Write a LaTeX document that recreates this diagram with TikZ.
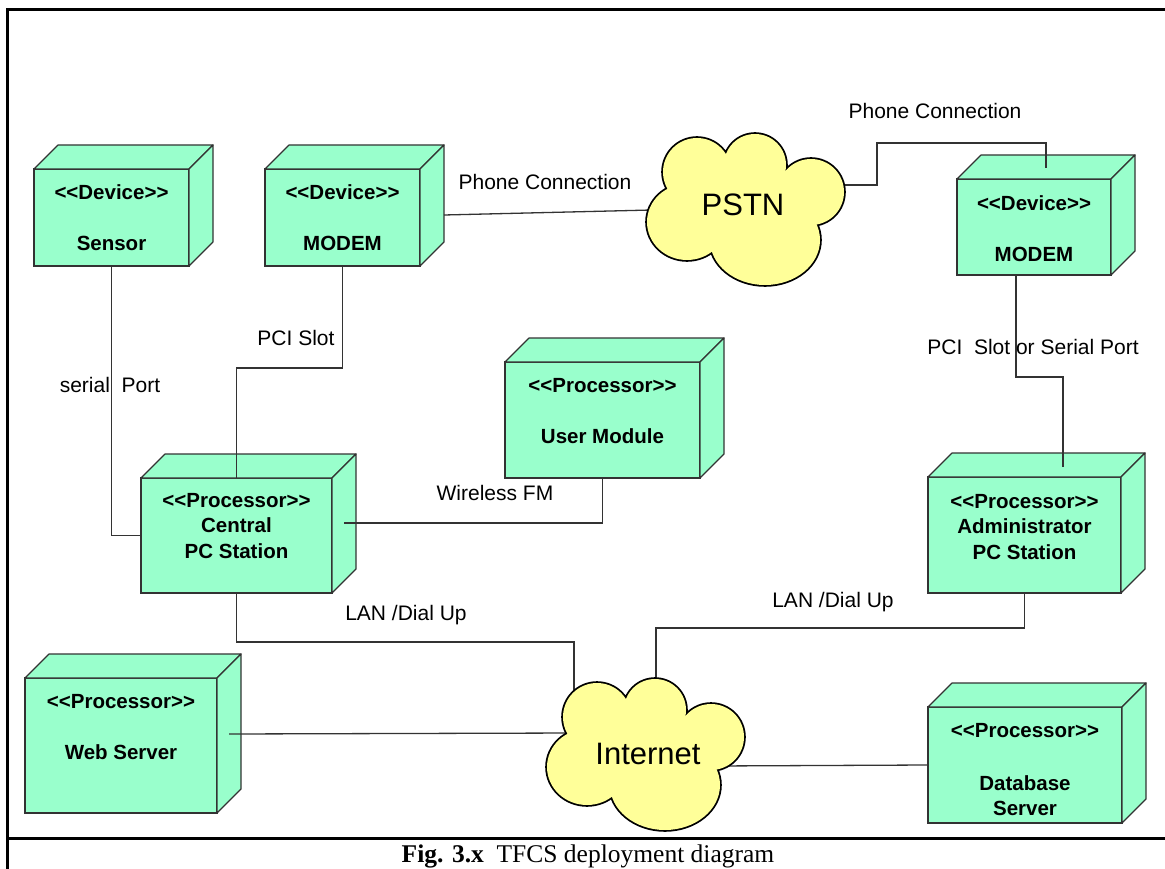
\documentclass[tikz,border=0pt]{standalone}
\usepackage{fontspec}
\setmainfont{Liberation Sans}
\newfontfamily\capfont{Liberation Serif}
\usetikzlibrary{calc}

\definecolor{mint}{HTML}{99FFCC}
\definecolor{cloudyellow}{HTML}{FFFF99}
\definecolor{edge}{HTML}{333333}

% stereotype brackets, kept as two separate characters
\newcommand\dopen{<\kern0pt<}
\newcommand\dclose{>\kern0pt>}

\tikzset{
  boxface/.style={draw=edge, fill=mint, line width=1.2pt, inner sep=0pt, outer sep=0pt, rectangle},
  boxside/.style={draw=edge, fill=mint, line width=1.2pt, line join=round},
  boxtext/.style={font=\fontsize{20.5}{25.5}\selectfont\bfseries, align=center, inner sep=0pt, anchor=north},
  link/.style={draw=edge, line width=1.3pt},
  linklabel/.style={font=\fontsize{21}{25}\selectfont, inner sep=0pt, anchor=base},
  cloudtext/.style={font=\fontsize{31}{36}\selectfont, inner sep=0pt, anchor=base},
  frameline/.style={draw=black, line width=3pt},
}

% 3-D node box: #1 name, #2 left, #3 top, #4 width, #5 height, #6 top of text, #7 text
\newcommand\depthbox[7]{%
  \node[boxface, minimum width=#4pt, minimum height=#5pt, anchor=north west] (#1) at (#2,#3) {};
  \filldraw[boxside] (#1.north west) -- ++(24pt,24pt) -- ([shift={(24pt,24pt)}]#1.north east) -- (#1.north east) -- cycle;
  \filldraw[boxside] (#1.north east) -- ([shift={(24pt,24pt)}]#1.north east) -- ([shift={(24pt,24pt)}]#1.south east) -- (#1.south east) -- cycle;
  \node[boxtext] (#1-text) at ($(#1.north)+(0,{#6-#3})$) {#7};
}

% cloud as a union of puffs: thick outline first, fill on top leaves the outer rim
\newcommand\cloudpuffs{%
  (-48,-38) circle[radius=34pt]
  (10,-45) circle[radius=31pt]
  (66,-18) circle[radius=33pt]
  (20,30) ellipse[x radius=55pt, y radius=45pt]
  (-58,12) ellipse[x radius=40pt, y radius=38pt]
}
\newcommand\cloudat[2]{%
  \begin{scope}[shift={(#1,#2)}]
    \draw[black, line width=3.6pt] \cloudpuffs;
    \fill[cloudyellow] \cloudpuffs (0,0) ellipse[x radius=60pt, y radius=42pt];
  \end{scope}
}

\begin{document}
\begin{tikzpicture}[x=1pt, y=-1pt]
\useasboundingbox (0,0) rectangle (1165,869);

% page frame
\draw[frameline] (1170,10) -- (7,10) -- (7,875);
\draw[frameline] (7,838) -- (1170,838);

% nodes
\depthbox{sensor}{34}{169}{155}{97}{184.7}{\dopen Device\dclose\\[25.5pt]Sensor}
\depthbox{modemL}{265}{169}{155}{97}{184.7}{\dopen Device\dclose\\[25.5pt]MODEM}
\depthbox{modemR}{957}{179}{154}{96}{195.7}{\dopen Device\dclose\\[25.5pt]MODEM}
\depthbox{user}{505}{362}{195}{116}{377.7}{\dopen Processor\dclose\\[25.5pt]User Module}
\depthbox{central}{141}{478}{191}{115}{493}{\dopen Processor\dclose\\Central\\PC Station}
\depthbox{admin}{928}{477}{193}{116}{493.7}{\dopen Processor\dclose\\Administrator\\PC Station}
\depthbox{web}{25}{678}{192}{135}{693.7}{\dopen Processor\dclose\\[26pt]Web Server}
\depthbox{db}{928}{707}{194}{116}{722.7}{\dopen Processor\dclose\\[27.5pt]Database\\Server}

% attachment points on the clouds
\coordinate (pstnW) at (652,210);
\coordinate (pstnE) at (838,185);
\coordinate (inetA) at (574,697);
\coordinate (inetB) at (656,684);
\coordinate (inetW) at (576,733);
\coordinate (inetE) at (714,766);

% connectors
\draw[link] (sensor.south) |- (central.west);
\draw[link] (modemL.south) -- ++(0,102) -| (central.north);
\draw[link] ([xshift=24pt,yshift=2.5pt]modemL.east) -- (pstnW);
\draw[link] (pstnE) -- ++(39,0) |- ([xshift=12pt,yshift=36pt]modemR.north) -- ([xshift=12pt,yshift=11pt]modemR.north);
\draw[link] ([xshift=-18pt]modemR.south) -- ++(0,102) -| ([xshift=38.5pt,yshift=10pt]admin.north);
\draw[link] ([xshift=12pt,yshift=12.5pt]central.east) -| (user.south);
\draw[link] (central.south) -- ++(0,49) -| (inetA);
\draw[link] (admin.south) -- ++(0,35) -| (inetB);
\draw[link] ([xshift=12pt,yshift=11.5pt]web.east) -- (inetW);
\draw[link] (inetE) -- (db.west);

% clouds
\cloudat{745}{210}
\cloudat{645}{755}
\node[cloudtext] (pstn) at (743,216) {PSTN};
\node[cloudtext] (internet) at (648,764) {Internet};

% connector labels
\node[linklabel] (lblPhoneL) at (545,189.5) {Phone Connection};
\node[linklabel] (lblPhoneR) at (935,119) {Phone Connection};
\node[linklabel] (lblPci) at (296,345.5) {PCI Slot};
\node[linklabel] (lblSerial) at (110,392.5) {serial\ \ Port};
\node[linklabel] (lblWireless) at (495,500.5) {Wireless FM};
\node[linklabel] (lblLanL) at (406,620.5) {LAN /Dial Up};
\node[linklabel] (lblLanR) at (833,607.5) {LAN /Dial Up};
\node[linklabel] (lblPciSerial) at (1033,354.5) {PCI\ \ Slot or Serial Port};

% caption
\node[font=\capfont\fontsize{25.5}{30}\selectfont, anchor=base, inner sep=0pt] (caption) at (588,862) {\textbf{Fig. 3.x}\ \ TFCS deployment diagram};
\end{tikzpicture}
\end{document}
